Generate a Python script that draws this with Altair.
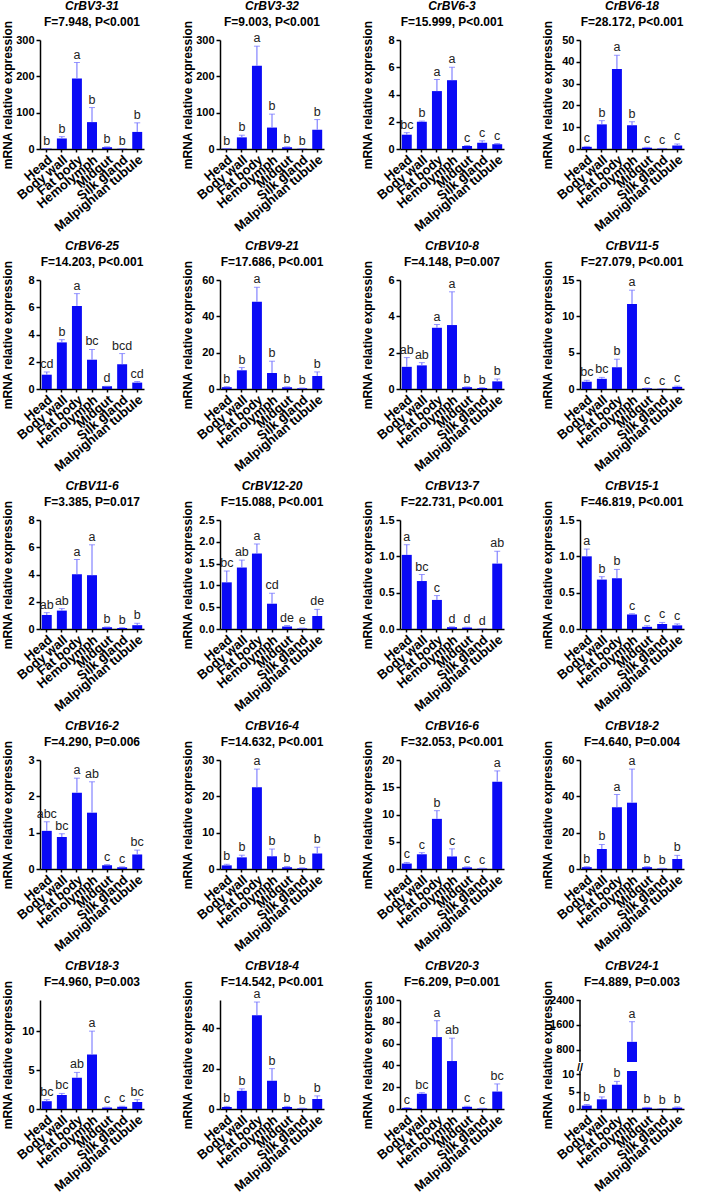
import altair as alt
import pandas as pd

tissues = ["Head", "Body wall", "Fat body", "Hemolymph", "Midgut", "Silk gland", "Malpighian tubule"]

genes = ["CrBV3-31", "CrBV3-32", "CrBV6-3", "CrBV6-18",
         "CrBV6-25", "CrBV9-21", "CrBV10-8", "CrBV11-5",
         "CrBV11-6", "CrBV12-20", "CrBV13-7", "CrBV15-1",
         "CrBV16-2", "CrBV16-4", "CrBV16-6", "CrBV18-2",
         "CrBV18-3", "CrBV18-4", "CrBV20-3", "CrBV24-1"]
f_values = ["7.948", "9.003", "15.999", "28.172",
            "14.203", "17.686", "4.148", "27.079",
            "3.385", "15.088", "22.731", "46.819",
            "4.290", "14.632", "32.053", "4.640",
            "4.960", "14.542", "6.209", "4.889"]
p_values = ["<0.001", "<0.001", "<0.001", "<0.001",
            "<0.001", "<0.001", "=0.007", "<0.001",
            "=0.017", "<0.001", "<0.001", "<0.001",
            "=0.006", "<0.001", "<0.001", "=0.004",
            "=0.003", "<0.001", "=0.001", "=0.003"]

means = [
    [1, 29, 194, 74, 5, 1, 47],
    [1, 32, 229, 59, 5, 1, 53],
    [1.05, 2.0, 4.25, 5.05, 0.22, 0.45, 0.35],
    [1.0, 11.3, 36.7, 10.9, 0.6, 0.2, 1.6],
    [1.05, 3.42, 6.1, 2.15, 0.2, 1.82, 0.47],
    [1.0, 10.3, 48, 8.8, 0.9, 0.4, 7.2],
    [1.22, 1.3, 3.37, 3.52, 0.1, 0.05, 0.42],
    [1.0, 1.4, 3.0, 11.7, 0.1, 0.05, 0.3],
    [1.03, 1.35, 4.02, 3.95, 0.12, 0.08, 0.28],
    [1.07, 1.41, 1.73, 0.58, 0.06, 0.01, 0.3],
    [1.02, 0.66, 0.40, 0.025, 0.02, 0.003, 0.90],
    [1.0, 0.68, 0.7, 0.2, 0.03, 0.07, 0.05],
    [1.05, 0.88, 2.1, 1.55, 0.1, 0.05, 0.4],
    [1.0, 3.2, 22.5, 3.5, 0.5, 0.2, 4.3],
    [1.0, 2.7, 9.2, 2.3, 0.3, 0.1, 16.0],
    [1.0, 11, 34, 36.5, 1.0, 0.3, 5.5],
    [1.0, 1.8, 4.0, 7.0, 0.2, 0.3, 0.9],
    [1.0, 9, 46.5, 14, 1.0, 0.3, 5.0],
    [1.0, 14, 66, 44, 2.0, 0.5, 16],
    [1.0, 2.8, 7.0, 1050, 0.4, 0.1, 0.4],
]
uppers = [
    [1, 34, 238, 114, 6, 1, 72],
    [1, 38, 283, 96, 6, 1, 81],
    [1.2, 2.05, 5.1, 6.0, 0.25, 0.6, 0.4],
    [1.2, 13.0, 43.0, 12.5, 0.8, 0.3, 2.3],
    [1.25, 3.62, 7.0, 2.9, 0.2, 2.6, 0.55],
    [1.3, 11.8, 56, 15.3, 1.2, 0.5, 9.4],
    [1.73, 1.45, 3.55, 5.35, 0.12, 0.07, 0.55],
    [1.2, 1.6, 4.1, 13.6, 0.12, 0.06, 0.4],
    [1.2, 1.5, 5.1, 6.18, 0.15, 0.1, 0.42],
    [1.33, 1.58, 1.95, 0.82, 0.08, 0.02, 0.45],
    [1.16, 0.75, 0.46, 0.03, 0.025, 0.004, 1.07],
    [1.1, 0.72, 0.82, 0.21, 0.045, 0.09, 0.07],
    [1.3, 0.97, 2.5, 2.4, 0.12, 0.06, 0.52],
    [1.3, 3.8, 27.5, 5.5, 0.7, 0.3, 6.0],
    [1.2, 3.0, 10.7, 3.7, 0.4, 0.15, 18.0],
    [1.3, 13.5, 41, 55, 1.3, 0.4, 7.5],
    [1.2, 2.0, 4.7, 10.0, 0.25, 0.35, 1.2],
    [1.3, 10, 53, 20, 1.3, 0.4, 6.5],
    [1.3, 15, 81, 65, 2.5, 0.7, 23],
    [1.3, 3.5, 8.0, 1700, 0.5, 0.15, 0.6],
]
letters = [
    ["b", "b", "a", "b", "b", "b", "b"],
    ["b", "b", "a", "b", "b", "b", "b"],
    ["bc", "b", "a", "a", "c", "c", "c"],
    ["c", "b", "a", "b", "c", "c", "c"],
    ["cd", "b", "a", "bc", "d", "bcd", "cd"],
    ["b", "b", "a", "b", "b", "b", "b"],
    ["ab", "ab", "a", "a", "b", "b", "b"],
    ["bc", "bc", "b", "a", "c", "c", "c"],
    ["ab", "ab", "a", "a", "b", "b", "b"],
    ["bc", "ab", "a", "cd", "de", "e", "de"],
    ["a", "bc", "c", "d", "d", "d", "ab"],
    ["a", "b", "b", "c", "c", "c", "c"],
    ["abc", "bc", "a", "ab", "c", "c", "bc"],
    ["b", "b", "a", "b", "b", "b", "b"],
    ["c", "c", "b", "c", "c", "c", "a"],
    ["b", "b", "a", "a", "b", "b", "b"],
    ["bc", "bc", "ab", "a", "c", "c", "bc"],
    ["b", "b", "a", "b", "b", "b", "b"],
    ["c", "bc", "a", "ab", "c", "c", "bc"],
    ["b", "b", "b", "a", "b", "b", "b"],
]
y_max = [300, 300, 8, 50, 8, 60, 6, 15, 8, 2.5, 1.5, 1.5, 3, 30, 20, 60, 14, 54, 100, 2400]
y_ticks = [
    [0, 100, 200, 300], [0, 100, 200, 300], [0, 2, 4, 6, 8], [0, 10, 20, 30, 40, 50],
    [0, 2, 4, 6, 8], [0, 20, 40, 60], [0, 2, 4, 6], [0, 5, 10, 15],
    [0, 2, 4, 6, 8], [0, 0.5, 1.0, 1.5, 2.0, 2.5], [0, 0.5, 1.0, 1.5], [0, 0.5, 1.0, 1.5],
    [0, 1, 2, 3], [0, 10, 20, 30], [0, 5, 10, 15, 20], [0, 20, 40, 60],
    [0, 5, 10], [0, 20, 40], [0, 20, 40, 60, 80, 100], [0, 5, 10, 800, 1600, 2400],
]
y_format = ["d", "d", "d", "d", "d", "d", "d", "d", "d", ".1f", ".1f", ".1f",
            "d", "d", "d", "d", "d", "d", "d", "d"]
# broken axis for the last panel: lower segment 0-11, upper segment 400-2400
break_low = 11
break_high = 400
break_mark = 120

BLUE = "#0a0af5"
ERR = "#6b6bff"
FONT = "Liberation Sans"
PANEL_W = 104
PANEL_H = 109
ROW_PERIOD = 240
COL_PERIOD = 180


def make_panel(i, h):
    df = pd.DataFrame({"tissue": tissues, "mean": means[i], "upper": uppers[i], "letter": letters[i]})
    df["top"] = df[["mean", "upper"]].max(axis=1)
    if i == 19:
        yscale = alt.Scale(domain=[0, break_low, break_high, y_max[i]],
                           range=[h, h - 38, h - 47, 0], clamp=True)
        df["low_top"] = df["mean"].clip(upper=break_low)
        df["hi_bot"] = [break_high if m > break_high else None for m in df["mean"]]
    else:
        yscale = alt.Scale(domain=[0, y_max[i]], nice=False)
    xenc = alt.X("tissue:N", sort=tissues, title=None,
                 scale=alt.Scale(paddingInner=0.34, paddingOuter=0.12),
                 axis=alt.Axis(labelAngle=-40, labelFont=FONT, labelFontSize=13, labelFontWeight="bold",
                               labelColor="black", domainColor="black", domainWidth=1.5,
                               tickColor="black", tickWidth=1.5, tickSize=3, labelPadding=1,
                               labelOverlap=False))
    yaxis = alt.Axis(values=y_ticks[i], format=y_format[i], title="mRNA relative expression",
                     titleFont=FONT, titleFontSize=12, titleFontWeight="bold", titleColor="black",
                     labelFont=FONT, labelFontSize=11, labelFontWeight="bold", labelColor="black",
                     domainColor="black", domainWidth=1.5, tickColor="black", tickWidth=1.5,
                     tickSize=4, labelPadding=2, grid=False, minExtent=24, maxExtent=24,
                     titlePadding=2, labelOverlap=False, domain=(i != 19))

    def Y(field):
        return alt.Y(field, scale=yscale, axis=yaxis, title="mRNA relative expression")

    base = alt.Chart(df)
    if i == 19:
        bars_lo = base.mark_bar(color=BLUE).encode(x=xenc, y=Y("low_top:Q"), y2=alt.datum(0))
        bars_hi = base.mark_bar(color=BLUE).encode(x=xenc, y=Y("mean:Q"), y2="hi_bot:Q")
        seg = pd.DataFrame({"a": [0, break_high], "b": [break_low, y_max[i]]})
        axis_lines = alt.Chart(seg).mark_rule(color="black", strokeWidth=1.5).encode(
            x=alt.value(0), y=Y("a:Q"), y2="b:Q")
        brk = alt.Chart(pd.DataFrame({"v": [break_mark]})).mark_text(
            text="//", font=FONT, fontSize=11, fontWeight="bold", color="black").encode(
            x=alt.value(0), y=Y("v:Q"))
        bars = bars_lo + bars_hi + axis_lines + brk
    else:
        bars = base.mark_bar(color=BLUE).encode(x=xenc, y=Y("mean:Q"))
    err = base.mark_rule(color=ERR, strokeWidth=1).encode(x=xenc, y=Y("mean:Q"), y2="upper:Q")
    cap = base.mark_tick(color=ERR, thickness=1, size=6).encode(x=xenc, y=Y("upper:Q"))
    txt = base.mark_text(baseline="bottom", dy=-1, font=FONT, fontSize=12.5, color="#222222").encode(
        x=xenc, y=Y("top:Q"), text="letter:N")
    layer = alt.layer(bars, err, cap, txt).properties(
        width=PANEL_W, height=h,
        title=alt.TitleParams(text=genes[i], subtitle=f"F={f_values[i]}, P{p_values[i]}",
                              font=FONT, fontSize=12, fontWeight="bold", fontStyle="italic",
                              color="black", subtitleFont=FONT, subtitleFontSize=12,
                              subtitleFontWeight="bold", subtitleColor="black",
                              subtitlePadding=4, offset=-9, anchor="middle", frame="group"))
    return layer


def spacer(h):
    d = pd.DataFrame({"v": [0]})
    return alt.Chart(d).mark_point(opacity=0).encode(
        x=alt.X("v:Q", axis=None), y=alt.Y("v:Q", axis=None)).properties(width=1, height=h)


rows = []
for r in range(5):
    panels = [make_panel(r * 4 + c, PANEL_H) for c in range(4)]
    rows.append(alt.hconcat(*panels, spacing=COL_PERIOD - PANEL_W, bounds="flush"))

items = []
for r in range(5):
    items.append(rows[r])
    if r < 4:
        items.append(spacer(ROW_PERIOD))

chart = alt.vconcat(*items, spacing=0, bounds="flush").configure_view(stroke=None).properties(
    padding={"left": 0, "top": 0, "right": 0, "bottom": 0})

chart.save("out.html", embed_options={"renderer": "svg", "actions": False})
